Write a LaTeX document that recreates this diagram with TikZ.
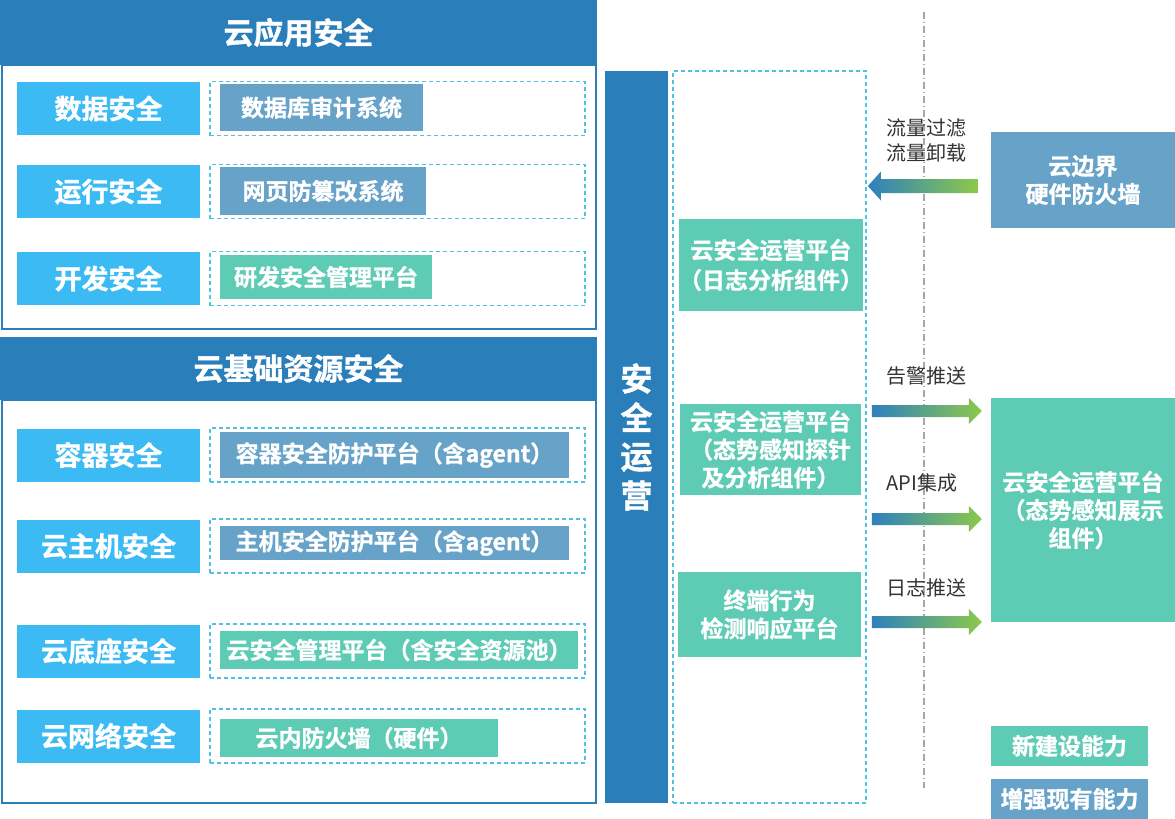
\documentclass[tikz,border=0pt]{standalone}
\usepackage{fontspec}
\setmainfont{Noto Sans CJK SC}[BoldFont={Noto Sans CJK SC Bold},BoldFeatures={FakeBold=1.2}]
\usetikzlibrary{calc}
\definecolor{headblue}{HTML}{2A7EBA}
\definecolor{skyblue}{HTML}{3BBAF4}
\definecolor{steel}{HTML}{67A3C8}
\definecolor{mint}{HTML}{5ECBB4}
\definecolor{dashcyan}{HTML}{4FC1E0}
\definecolor{flowblue}{HTML}{2F80BD}
\definecolor{flowgreen}{HTML}{8CC94B}
\definecolor{tagtext}{HTML}{333333}
\tikzset{
  panel/.style={draw=headblue,line width=2pt,inner sep=0pt},
  head/.style={fill=headblue,text=white,inner sep=0pt,font=\bfseries\fontsize{30}{34}\selectfont},
  area/.style={fill=skyblue,text=white,inner sep=0pt,minimum width=183pt,minimum height=53pt,font=\bfseries\fontsize{27}{30}\selectfont},
  slot/.style={draw=dashcyan,line width=1.8pt,dash pattern=on 4pt off 3pt,inner sep=0pt,minimum width=375pt,minimum height=54pt},
  have/.style={fill=steel,text=white,inner sep=0pt,align=center,font=\bfseries\fontsize{23}{28}\selectfont},
  fresh/.style={fill=mint,text=white,inner sep=0pt,align=center,font=\bfseries\fontsize{23}{28}\selectfont},
  tag/.style={text=tagtext,inner sep=0pt,align=center,font=\fontsize{20}{25}\selectfont}
}
\newcommand\flowarrow[4]{%
  \coordinate (#2-base) at ($(#2)!13pt!(#1)$);
  \shade[left color=flowblue,right color=flowgreen]
    ($(#1)+(0,#3)$) -- ($(#2-base)+(0,#3)$) -- ($(#2-base)+(0,#4)$) -- (#2)
    -- ($(#2-base)+(0,-#4)$) -- ($(#2-base)+(0,-#3)$) -- ($(#1)+(0,-#3)$) -- cycle;}
\begin{document}
\begin{tikzpicture}[x=1pt,y=-1pt]
\useasboundingbox (0,0) rectangle (1175,819);

\node[panel,minimum width=594pt,minimum height=264pt] (appbox) at (299,197) {};
\node[head,minimum width=597pt,minimum height=65pt] (apphead) at (298.5,32.5) {云应用安全};
\node[area] (data) at (108.5,108.5) {数据安全};
\node[area] (run) at (108.5,191.5) {运行安全};
\node[area] (dev) at (108.5,278.5) {开发安全};
\node[slot] (dataslot) at (397.5,108.5) {};
\node[slot] (runslot) at (397.5,191.5) {};
\node[slot] (devslot) at (397.5,278.5) {};
\node[have,minimum width=203pt,minimum height=47pt] (audit) at (321.5,107.5) {数据库审计系统};
\node[have,minimum width=206pt,minimum height=48pt] (tamper) at (323,191) {网页防篡改系统};
\node[fresh,minimum width=212pt,minimum height=44pt] (sdlc) at (326,277) {研发安全管理平台};

\node[panel,minimum width=594pt,minimum height=403pt] (infrabox) at (299,601.5) {};
\node[head,minimum width=597pt,minimum height=63pt] (infrahead) at (298.5,368.5) {云基础资源安全};
\node[area] (cont) at (108.5,455) {容器安全};
\node[area] (host) at (108.5,546) {云主机安全};
\node[area] (base) at (108.5,651) {云底座安全};
\node[area] (net) at (108.5,736) {云网络安全};
\node[slot] (contslot) at (397.5,455) {};
\node[slot] (hostslot) at (397.5,546) {};
\node[slot] (baseslot) at (397.5,651) {};
\node[slot] (netslot) at (397.5,736) {};
\node[have,minimum width=349pt,minimum height=46pt] (contprot) at (394.5,455) {容器安全防护平台（含agent）};
\node[have,minimum width=349pt,minimum height=34pt] (hostprot) at (394.5,543) {主机安全防护平台（含agent）};
\node[fresh,minimum width=358pt,minimum height=38pt] (mgmt) at (399,650) {云安全管理平台（含安全资源池）};
\node[fresh,minimum width=278pt,minimum height=38pt] (infw) at (359,738) {云内防火墙（硬件）};

\node[head,minimum width=63pt,minimum height=732pt,align=center,font=\bfseries\fontsize{32}{39}\selectfont] (secops) at (636.5,437) {安\\全\\运\\营};
\node[slot,minimum width=193pt,minimum height=732pt] (opsframe) at (769.5,437) {};
\node[fresh,minimum width=180pt,minimum height=92pt,font=\bfseries\fontsize{23}{30}\selectfont] (opslog) at (771,265) {云安全运营平台\\（日志分析组件）};
\node[fresh,minimum width=181pt,minimum height=91pt] (opsprobe) at (770.5,449.5) {云安全运营平台\\（态势感知探针\\及分析组件）};
\node[fresh,minimum width=183pt,minimum height=85pt] (edr) at (769.5,614.5) {终端行为\\检测响应平台};

\draw[gray!70,line width=1.2pt,dash pattern=on 7pt off 3pt on 1pt off 3pt] (924,12) -- (924,788);

\node[have,minimum width=184pt,minimum height=96pt] (fw) at (1083,180) {云边界\\硬件防火墙};
\node[fresh,minimum width=184pt,minimum height=224pt] (situ) at (1083,510) {云安全运营平台\\（态势感知展示\\组件）};
\node[fresh,minimum width=157pt,minimum height=40pt] (newkey) at (1069.5,746) {新建设能力};
\node[have,minimum width=157pt,minimum height=40pt] (havekey) at (1069.5,799) {增强现有能力};

\node[tag] (filter) at (926,140) {流量过滤\\流量卸载};
\node[tag] (alarm) at (926,376) {告警推送};
\node[tag] (api) at (922,483) {API集成};
\node[tag] (logpush) at (926,588) {日志推送};

\coordinate (fwout) at ($(fw.west |- 0,186)+(-13,0)$);
\coordinate (fwin) at ($(opsframe.east |- 0,186)+(1,0)$);
\coordinate (alarmout) at ($(opsframe.east |- 0,411)+(5,0)$);
\coordinate (alarmin) at ($(situ.west |- 0,411)+(-9,0)$);
\coordinate (apiout) at ($(opsframe.east |- 0,519)+(5,0)$);
\coordinate (apiin) at ($(situ.west |- 0,519)+(-9,0)$);
\coordinate (logout) at ($(opsframe.east |- 0,622)+(5,0)$);
\coordinate (login) at ($(situ.west |- 0,622)+(-9,0)$);
\flowarrow{fwout}{fwin}{7}{14.5}
\flowarrow{alarmout}{alarmin}{6}{13}
\flowarrow{apiout}{apiin}{6}{13}
\flowarrow{logout}{login}{6}{13}
\end{tikzpicture}
\end{document}
